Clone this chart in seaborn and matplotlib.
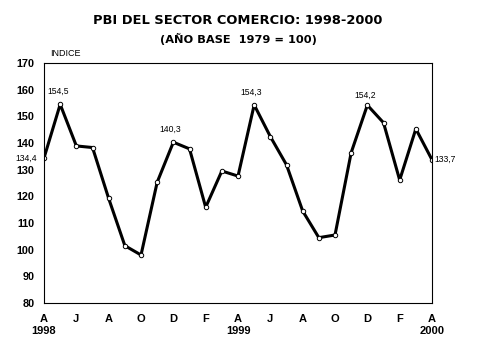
import numpy as np
import pandas as pd
import matplotlib
matplotlib.use('Agg')
import matplotlib.pyplot as plt
import seaborn as sns

# datos mensuales abril 1998 - abril 2000
meses = ['A', 'M', 'J', 'J', 'A', 'S', 'O', 'N', 'D', 'E', 'F', 'M',
         'A', 'M', 'J', 'J', 'A', 'S', 'O', 'N', 'D', 'E', 'F', 'M', 'A']
anios = {0: '1998', 12: '1999', 24: '2000'}
indice = [134.4, 154.5, 138.9, 138.3, 119.2, 101.5, 98.0, 125.3, 140.3, 137.8,
          115.9, 129.5, 127.6, 154.3, 142.4, 131.8, 114.5, 104.5, 105.5, 136.4,
          154.2, 147.6, 126.1, 145.3, 133.7]
# puntos con etiqueta de valor
etiquetados = [0, 1, 8, 13, 20, 24]

df = pd.DataFrame({'mes': np.arange(len(indice)), 'indice': indice})

sns.set_style('white')
plt.rcParams['font.family'] = ['Liberation Sans', 'DejaVu Sans']
plt.rcParams['text.color'] = 'black'
plt.rcParams['xtick.color'] = 'black'
plt.rcParams['ytick.color'] = 'black'
plt.rcParams['axes.labelcolor'] = 'black'

fig = plt.figure(figsize=(4.79, 3.59), dpi=100)
ax = fig.add_axes([0.0919, 0.156, 0.81, 0.6685])

sns.lineplot(data=df, x='mes', y='indice', ax=ax, color='black', linewidth=2.2,
             marker='o', markersize=3.2, markerfacecolor='white',
             markeredgecolor='black', markeredgewidth=0.7)

ax.set_xlim(0, len(indice) - 1)
ax.set_ylim(80, 170)
ax.set_yticks(range(80, 171, 10))
ax.set_xticks(df['mes'])
etiquetas = []
for i, m in enumerate(meses):
    if i % 2 == 0:
        etiquetas.append(m + ('\n' + anios[i] if i in anios else ''))
    else:
        etiquetas.append('')
ax.set_xticklabels(etiquetas, linespacing=1.25)
ax.set_xlabel('')
ax.set_ylabel('')

for s in ax.spines.values():
    s.set_color('black')
    s.set_linewidth(0.8)
ax.tick_params(axis='both', direction='out', length=3, width=0.8, color='black',
               labelcolor='black')
ax.tick_params(axis='x', pad=5, labelsize=8)
ax.tick_params(axis='y', pad=4, labelsize=7.8)
for t in ax.get_xticklabels() + ax.get_yticklabels():
    t.set_fontweight('bold')
for t in ax.get_xticklabels():
    t.set_verticalalignment('top')

# etiquetas de valor
desplaz = {0: (-5, 0, 'right', 'center'), 1: (-1.5, 9.5, 'center', 'center'),
           8: (-2, 9, 'center', 'center'), 13: (-2, 9, 'center', 'center'),
           20: (-1.5, 7, 'center', 'center'), 24: (1.5, 0, 'left', 'center')}
for i in etiquetados:
    dx, dy, ha, va = desplaz[i]
    ax.annotate(f'{indice[i]:.1f}'.replace('.', ','), (i, indice[i]),
                xytext=(dx, dy), textcoords='offset points', ha=ha, va=va,
                fontsize=6.2, color='black', clip_on=False)

fig.text(0.497, 1 - 21 / 359, 'PBI DEL SECTOR COMERCIO: 1998-2000', ha='center',
         va='center', fontsize=9.4, fontweight='bold', family='DejaVu Sans')
fig.text(0.497, 1 - 39 / 359, '(AÑO BASE  1979 = 100)', ha='center',
         va='center', fontsize=8.2, fontweight='bold', family='DejaVu Sans')
fig.text(50 / 479, 1 - 54 / 359, 'INDICE', ha='left', va='center', fontsize=6.5)

fig.savefig('out.png', dpi=100, facecolor='white')
